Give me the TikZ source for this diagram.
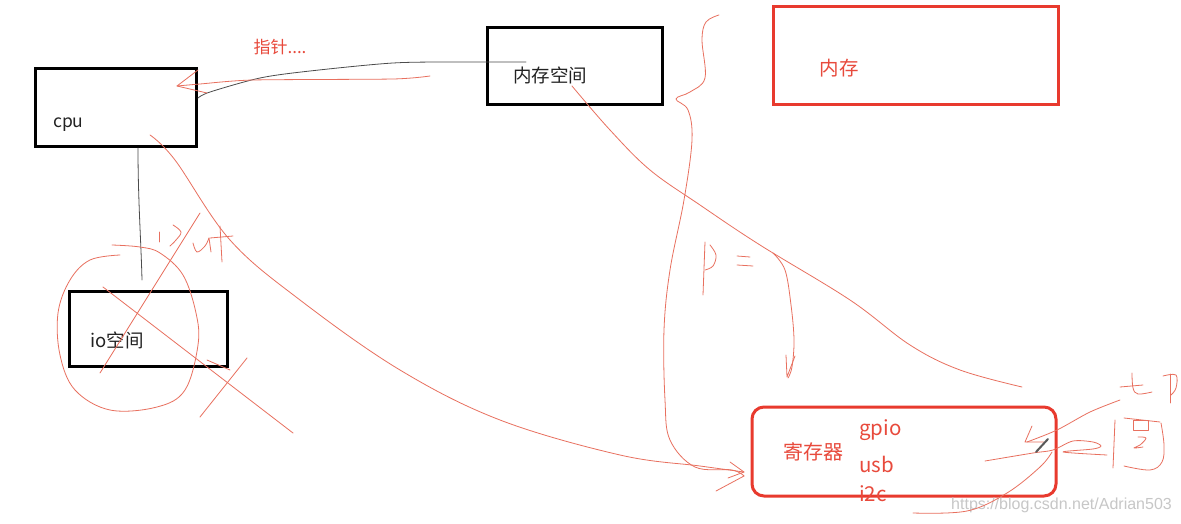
\documentclass[tikz,border=0pt]{standalone}
\usepackage{fontspec}
\setmainfont{Noto Sans CJK SC}
\newfontfamily\wmfont{Liberation Sans}
\usetikzlibrary{calc}
\definecolor{penred}{HTML}{E8705F}
\definecolor{boxred}{HTML}{E83A2E}
\definecolor{txtred}{HTML}{E84A3C}
\definecolor{ink}{HTML}{222222}
\tikzset{
  blackbox/.style={draw=black,line width=3pt,minimum width=#1,inner sep=0pt},
  redbox/.style={draw=boxred,line width=3pt,inner sep=0pt},
  lbl/.style={font=\fontsize{17.5}{17.5}\selectfont,text=ink,inner sep=0pt},
  rlbl/.style={font=\fontsize{17}{17}\selectfont,text=txtred,inner sep=0pt},
  pen/.style={draw=penred,line width=0.8pt,line cap=round,line join=round},
  gpen/.style={draw=black!70,line width=0.8pt,line cap=round},
}
\begin{document}
\begin{tikzpicture}[x=1pt,y=-1pt]
\useasboundingbox (0,0) rectangle (1181,524);
\fill[white] (0,0) rectangle (1181,524);

% boxes
\node[blackbox=161pt,minimum height=78pt] (cpu) at (115.5,108) {};
\node[blackbox=175pt,minimum height=77pt] (memspace) at (574.5,66.5) {};
\node[blackbox=158pt,minimum height=75pt] (io) at (148,328.5) {};
\node[redbox,minimum width=285pt,minimum height=98pt] (mem) at (915.5,56) {};
\node[redbox,rounded corners=12pt,minimum width=304pt,minimum height=89pt] (reg) at (904,451.5) {};

% labels
\node[lbl,anchor=west] (cputxt) at (53,125) {cpu};
\node[lbl,font=\fontsize{18.5}{18.5}\selectfont] (memspacetxt) at (550,75) {内存空间};
\node[lbl,font=\fontsize{18.5}{18.5}\selectfont] (iotxt) at (117,340) {io空间};
\node[rlbl,font=\fontsize{19.5}{19.5}\selectfont] (memtxt) at (839,68) {内存};
\node[rlbl,font=\fontsize{20}{20}\selectfont] (regtxt) at (813,452) {寄存器};
\node[rlbl,anchor=west,font=\fontsize{20.5}{20.5}\selectfont] (gpio) at (859,430) {gpio};
\node[rlbl,anchor=west,font=\fontsize{20.5}{20.5}\selectfont] (usb) at (859,464) {usb};
\node[rlbl,anchor=west,font=\fontsize{20.5}{20.5}\selectfont] (i2c) at (859,494) {i2c};
\node[rlbl,font=\fontsize{17}{17}\selectfont] (ptr) at (280,47) {指针....};
\node[font=\fontsize{16}{16}\selectfont\wmfont,text=black!22,inner sep=0pt,anchor=east] (wm) at (1172,505) {https://blog.csdn.net/Adrian503};

% black pointer line from cpu to memory space
\coordinate (ms) at (526,62);
\draw[gpen] plot[smooth,tension=0.5] coordinates {(198,98) (210,92) (260,78) (310,71) (393,63) (460,62) (526,62)};
% black line cpu -> io
\draw[gpen] (138,148) .. controls (138,200) and (141,240) .. (142,280);

% red pointer arrow
\draw[pen] plot[smooth,tension=0.4] coordinates {(430,76) (393,79) (253,80) (200,84) (177,86)};
\draw[pen] (198,70) -- (177,86) -- (207,93);

% red curve cpu -> registers
\coordinate (c1) at (150,135);
\draw[pen] plot[smooth,tension=0.6] coordinates {(150,135) (175,160) (230,240) (300,300) (400,370) (500,420) (620,455) (700,466) (744,472)};
\draw[pen] (730,462) -- (744,472) -- (728,478);

% red curve from memory space down-right
\draw[pen] plot[smooth,tension=0.6] coordinates {(572,86) (610,130) (650,170) (700,205) (760,245) (850,300) (910,345) (960,370) (1022,387)};

% big brace and arrow into registers
\draw[pen] plot[smooth,tension=0.6] coordinates {(719,15) (706,22) (702,40) (705,78) (690,92) (676,99) (688,110) (692,140) (684,200) (670,270) (664,330) (665,400) (670,440) (695,467) (732,470) (744,476)};
\draw[pen] (744,476) -- (716,491);

% P =
\draw[pen] (705,242) -- (703,295);
\draw[pen] plot[smooth,tension=0.6] coordinates {(710,245) (716,255) (713,266) (705,270)};
\draw[pen] (737,256) -- (750,257);
\draw[pen] (737,265) -- (753,266);
% bracket arrow
\draw[pen] plot[smooth,tension=0.6] coordinates {(773,253) (785,270) (791,305) (794,340) (792,367) (788,378)};
\draw[pen] (786,355) -- (787,377) -- (795,356);

% circle around io
\draw[pen] plot[smooth,tension=0.6] coordinates {(120,255) (90,260) (70,280) (58,313) (60,355) (75,390) (110,410) (157,407) (185,390) (198,345) (196,313) (183,275) (160,253) (140,247) (112,245)};
% crosses
\draw[pen] (100,373) -- (200,213);
\draw[pen] (103,287) -- (293,433);
\draw[pen] (207,360) -- (230,370);
\draw[pen] (247,358) -- (200,417);

% "input" handwriting
\draw[pen] (159,232) -- (159,242);
\draw[pen] plot[smooth,tension=0.6] coordinates {(173,225) (181,232) (176,240) (170,246)};
\draw[pen] plot[smooth,tension=0.6] coordinates {(193,243) (197,252) (205,246) (209,238)};
\draw[pen] (209,238) -- (211,252);
\draw[pen] (220,226) -- (222,262);
\draw[pen] (210,238) -- (233,236);

% strokes near registers right side
\draw[pen] plot[smooth,tension=0.5] coordinates {(1120,400) (1090,412) (1057,430) (1027,442)};
\draw[pen] (1032,426) -- (1025,442) -- (1044,442);
\draw[pen] plot[smooth,tension=0.5] coordinates {(985,461) (1033,453) (1053,450) (1073,441) (1093,442) (1101,446) (1093,449) (1063,452) (1107,455)};
\draw[pen] plot[smooth,tension=0.6] coordinates {(913,513) (967,511) (1007,493) (1040,467) (1052,452)};
% pencil cursor
\draw[gray!70!black,line width=2pt,line cap=round] (1036,452) -- (1048,439);

% "切" handwriting
\draw[pen] (1120,387) -- (1143,385);
\draw[pen] plot[smooth,tension=0.6] coordinates {(1132,373) (1133,388) (1138,394) (1152,392)};
\draw[pen] plot[smooth,tension=0.6] coordinates {(1163,376) (1176,375) (1176,388) (1171,395)};
\draw[pen] (1170,374) -- (1170,403);
% "图" handwriting
\draw[pen] (1115,420) -- (1113,468);
\draw[pen] (1124,418) -- (1160,422);
\draw[pen] plot[smooth,tension=0.6] coordinates {(1161,423) (1164,445) (1162,462) (1150,470) (1124,466)};
\draw[pen] (1133,420) rectangle (1148,430);
\draw[pen] plot[smooth,tension=0.6] coordinates {(1138,437) (1146,438) (1140,445) (1134,448) (1143,447)};
\end{tikzpicture}
\end{document}
